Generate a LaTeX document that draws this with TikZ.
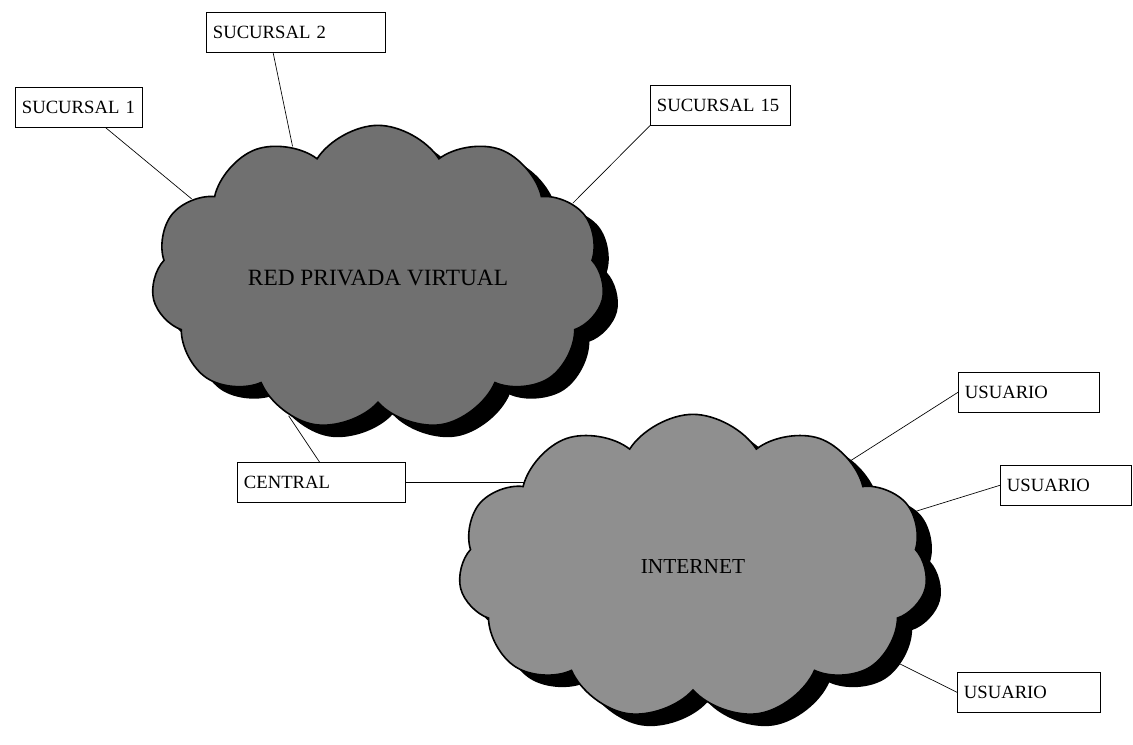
\documentclass[tikz,border=0pt]{standalone}
\usepackage{fontspec}
\setmainfont{Liberation Serif}
\usetikzlibrary{shapes.symbols,shadows}
\tikzset{
  etiq/.style={draw, fill=white, align=left, inner xsep=5pt, inner ysep=0pt,
    minimum height=30pt, anchor=north west, font=\fontsize{14}{16}\selectfont},
  nube/.style={cloud, cloud puffs=11, cloud puff arc=115, cloud ignores aspect,
    draw, line width=1.2pt, inner sep=0pt, font=\fontsize{16}{18}\selectfont,
    drop shadow={shadow xshift=11pt, shadow yshift=-9pt, fill=black, opacity=1}},
  enlace/.style={draw, line width=0.5pt}
}
\begin{document}
\begin{tikzpicture}[x=0.75pt, y=-0.75pt]
\useasboundingbox (0,0) rectangle (1133,744);

% las dos nubes
\node[nube, fill=black!56, minimum width=340pt, minimum height=229pt,
  font=\fontsize{17.5}{20}\selectfont] (vpn) at (378,278) {RED PRIVADA VIRTUAL};
\node[nube, fill=black!44, minimum width=352pt, minimum height=229pt] (inet) at (693,567) {INTERNET};

% etiquetas
\node[etiq, text width=85pt] (suc1) at (15,87) {SUCURSAL 1};
\node[etiq, text width=124pt] (suc2) at (206,12) {SUCURSAL 2};
\node[etiq, text width=95pt] (suc15) at (650,85) {SUCURSAL 15};
\node[etiq, text width=116pt] (central) at (237,462) {CENTRAL};
\node[etiq, text width=96pt] (usu1) at (958,372) {USUARIO};
\node[etiq, text width=88pt] (usu2) at (1000,465) {USUARIO};
\node[etiq, text width=97pt] (usu3) at (957,672) {USUARIO};

% enlaces
\draw[enlace] (suc1.-37) -- (vpn.157);
\draw[enlace] (suc2.222) -- (vpn.123);
\draw[enlace] (suc15.south west) -- (vpn.21);
\draw[enlace] (central.95) -- (vpn.237);
\draw[enlace] (central.east) -- (central.east -| inet.152);
\draw[enlace] (usu1.west) -- (inet.34);
\draw[enlace] (usu2.west) -- (inet.14);
\draw[enlace] (usu3.west) -- (inet.-25);
\end{tikzpicture}
\end{document}
